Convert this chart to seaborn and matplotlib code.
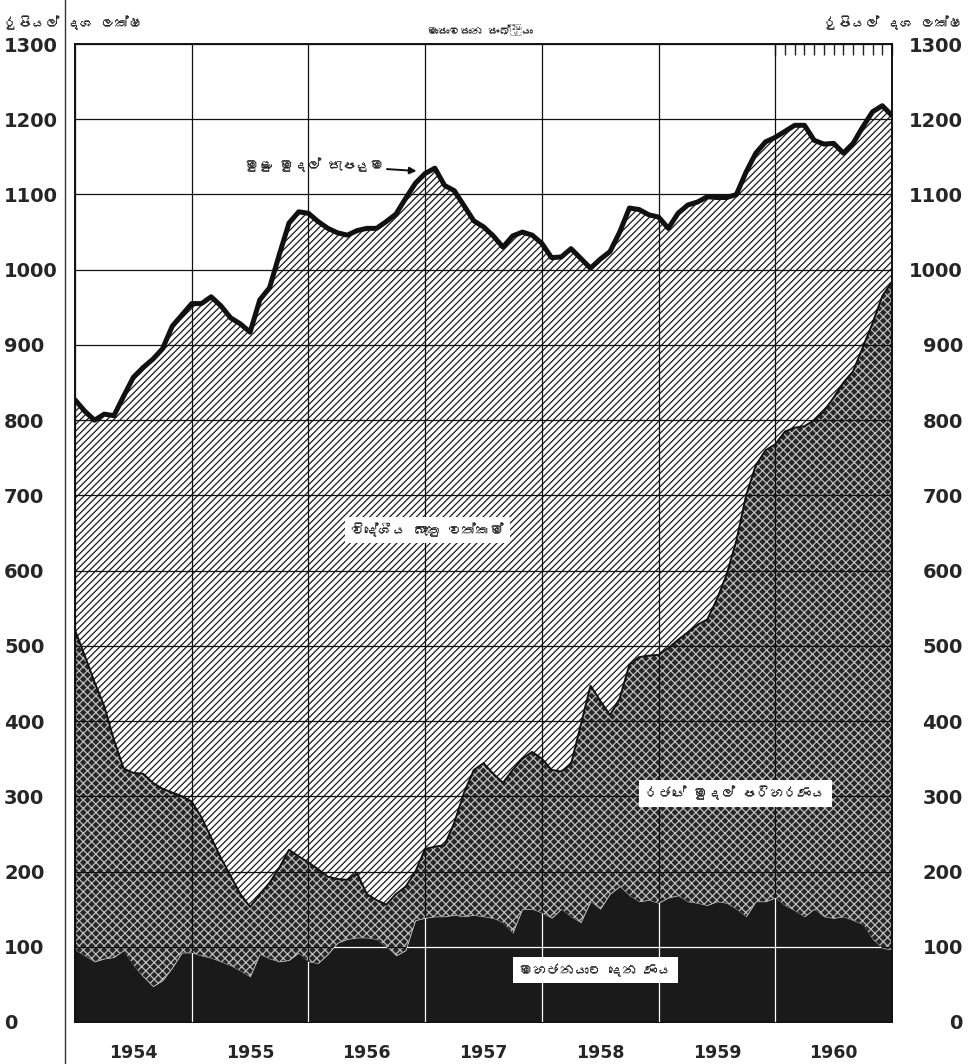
import numpy as np
import pandas as pd
import matplotlib
matplotlib.use("Agg")
import matplotlib.pyplot as plt
import seaborn as sns
from matplotlib.lines import Line2D
from matplotlib import font_manager, ft2font

# ============================================================
# Data (rupees ten lakhs, month-end, Dec 1953 - Dec 1960)
# ============================================================

years = [1954, 1955, 1956, 1957, 1958, 1959, 1960]

# total money supply (thick line)
total = [827, 812, 800, 808, 806, 832, 857, 870, 881, 895, 925, 940,
         955, 955, 964, 952, 936, 928, 917, 960, 976, 1020, 1062, 1077,
         1075, 1064, 1055, 1049, 1046, 1052, 1055, 1055, 1064, 1074, 1095, 1115,
         1128, 1135, 1112, 1105, 1085, 1065, 1057, 1045, 1030, 1045, 1050, 1046,
         1035, 1016, 1017, 1028, 1015, 1002, 1014, 1024, 1050, 1082, 1080, 1073,
         1070, 1055, 1075, 1086, 1090, 1097, 1096, 1096, 1100, 1130, 1155, 1170,
         1176, 1184, 1192, 1192, 1172, 1167, 1168, 1155, 1168, 1190, 1210, 1218,
         1205]

# loans to public + government operations (top of cross-hatch)
lower_two = [521, 487, 452, 420, 375, 337, 331, 330, 318, 310, 305, 300,
             293, 272, 245, 218, 194, 170, 153, 170, 185, 205, 229, 220,
             212, 203, 193, 190, 189, 198, 170, 162, 156, 170, 180, 200,
             230, 233, 235, 265, 305, 335, 344, 330, 318, 335, 350, 359,
             350, 335, 333, 343, 395, 447, 427, 408, 430, 475, 485, 487,
             488, 497, 508, 518, 528, 535, 562, 595, 640, 700, 740, 760,
             768, 785, 790, 792, 800, 812, 830, 850, 865, 897, 929, 965,
             984]

# loans to public (black)
loans = [96, 88, 80, 84, 86, 95, 75, 60, 47, 55, 72, 92,
         92, 88, 85, 80, 75, 68, 60, 90, 84, 80, 82, 92,
         80, 78, 90, 105, 110, 112, 112, 110, 100, 88, 95, 135,
         138, 140, 140, 142, 140, 142, 140, 138, 132, 118, 150, 150,
         145, 138, 150, 140, 132, 160, 150, 170, 180, 168, 160, 162,
         158, 165, 168, 160, 158, 155, 160, 158, 150, 140, 160, 160,
         165, 155, 148, 140, 150, 140, 138, 140, 135, 130, 110, 98,
         96]

unit_label = "රුපියල් දශ ලක්ෂ"
top_note = "මාසාවසාන සංඛ්‍යා"
lbl_total = "මුළු මුදල් සැපයුම"
lbl_foreign = "විදේශීය බැංකු වත්කම්"
lbl_govt = "රජයේ මුදල් පරිහරණය"
lbl_loans = "මහජනයාට දෙන ණය"

df = pd.DataFrame({
    "t": 1954 + np.arange(len(total)) / 12.0,
    "total": total,
    "lower_two": lower_two,
    "loans": loans,
})

# ============================================================
# Style
# ============================================================

sns.set_theme(style="white")
plt.rcParams["font.family"] = ["DejaVu Sans"]
plt.rcParams["hatch.linewidth"] = 0.9

# look for any installed family that has Sinhala glyphs
sin_fams = []
for f in font_manager.fontManager.ttflist:
    try:
        cmap = ft2font.FT2Font(f.fname).get_charmap()
    except Exception:
        continue
    if 0x0DBB in cmap and f.name not in sin_fams:
        sin_fams.append(f.name)
sin_font = sin_fams + ["Noto Sans Sinhala", "Noto Sans", "DejaVu Sans"]
sin_font = [n for i, n in enumerate(sin_font) if n not in sin_font[:i]]

fig = plt.figure(figsize=(9.68, 10.64), dpi=100)
ax = fig.add_axes([0.0775, 0.0395, 0.844, 0.9191])

# ============================================================
# Layers
# ============================================================

ax.fill_between(df["t"], df["lower_two"], df["total"], facecolor="white",
                edgecolor="#1a1a1a", hatch="/////", linewidth=0, zorder=1)
ax.fill_between(df["t"], df["loans"], df["lower_two"], facecolor="#262626",
                edgecolor="#bdbdbd", hatch="xxxx", linewidth=0, zorder=1)
dark = ax.fill_between(df["t"], 0, df["loans"], facecolor="#1a1a1a",
                       linewidth=0, zorder=1)

# boundary between foreign assets and government layer
sns.lineplot(data=df, x="t", y="lower_two", ax=ax, color="#111111",
             linewidth=1.4, zorder=2)
sns.lineplot(data=df, x="t", y="total", ax=ax, color="#111111",
             linewidth=3.6, zorder=4)

# ============================================================
# Axes, grid
# ============================================================

ax.set_xlim(1954, 1961)
ax.set_ylim(0, 1300)
ax.set_xlabel("")
ax.set_ylabel("")

ax.set_xticks([y + 0.5 for y in years])
ax.set_xticklabels([str(y) for y in years], fontsize=12.5, fontweight="bold")
ax.set_xticks(list(range(1954, 1962)), minor=True)
ax.set_yticks(range(0, 1301, 100))
ax.set_yticklabels([str(v) for v in range(0, 1301, 100)],
                   fontsize=14, fontweight="bold")

ax.tick_params(axis="x", which="both", length=0, pad=16)
ax.tick_params(axis="y", length=0, pad=51, left=True, right=True,
               labelleft=True, labelright=True)
for lab in ax.get_yticklabels():
    lab.set_horizontalalignment("left")
for t in ax.yaxis.get_major_ticks():
    t.label2.set_horizontalalignment("right")
    t.label2.set_fontsize(14)
    t.label2.set_fontweight("bold")

ax.set_axisbelow(False)
ax.grid(axis="y", which="major", color="#111111", linewidth=0.9)
ax.grid(axis="x", which="minor", color="#111111", linewidth=0.9)
ax.grid(axis="x", which="major", visible=False)

# monthly ticks along the top edge for the last year
top = ax.secondary_xaxis("top")
top.set_xticks([1960 + m / 12.0 for m in range(13)])
top.tick_params(direction="in", length=8, width=1.0, color="#222222",
                labeltop=False)
top.spines["top"].set_visible(False)

# white grid where it crosses the black layer
clip = dark.get_paths()[0]
for yr in range(1955, 1961):
    ln = ax.axvline(yr, color="white", linewidth=0.9, zorder=3)
    ln.set_clip_path(clip, ax.transData)
ln = ax.axhline(100, color="white", linewidth=0.9, zorder=3)
ln.set_clip_path(clip, ax.transData)

for s in ax.spines.values():
    s.set_color("#111111")
    s.set_linewidth(1.4)

# separator line left of the plot
fig.add_artist(Line2D([0.067, 0.067], [0.0, 1.0], color="#333333",
                      linewidth=1.0))

# ============================================================
# Text
# ============================================================

fig.text(0.004, 0.985, unit_label, family=sin_font, fontsize=10,
         fontweight="bold", va="top", ha="left")
fig.text(0.995, 0.985, unit_label, family=sin_font, fontsize=10,
         fontweight="bold", va="top", ha="right")
fig.text(0.496, 0.977, top_note, family=sin_font, fontsize=8,
         va="top", ha="center")

ax.annotate(lbl_total, xy=(1956.95, 1131), xytext=(1956.05, 1140),
            family=sin_font, fontsize=10, fontweight="bold",
            ha="center", va="center",
            arrowprops=dict(arrowstyle="-|>", color="#111111", lw=1.4,
                            shrinkA=58, shrinkB=2))

box = dict(facecolor="white", edgecolor="none", boxstyle="square,pad=0.45")
ax.text(1957.02, 654, lbl_foreign, family=sin_font, fontsize=10,
        fontweight="bold", ha="center", va="center", bbox=box, zorder=5)
ax.text(1959.66, 304, lbl_govt, family=sin_font, fontsize=10,
        fontweight="bold", ha="center", va="center", bbox=box, zorder=5)
ax.text(1958.46, 69, lbl_loans, family=sin_font, fontsize=10,
        fontweight="bold", ha="center", va="center", bbox=box, zorder=5)

fig.savefig("out.png", dpi=100, facecolor="white")
